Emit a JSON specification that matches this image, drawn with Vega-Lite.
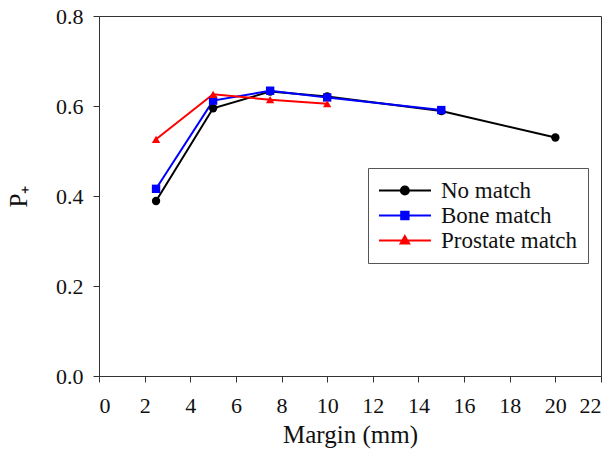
{
  "$schema": "https://vega.github.io/schema/vega-lite/v6.json",
  "width": 502,
  "height": 360,
  "autosize": {"type": "none"},
  "padding": {"left": 99, "top": 16, "right": 14, "bottom": 81},
  "background": "white",
  "config": {
    "font": "Liberation Serif",
    "view": {"stroke": "#333", "strokeWidth": 1},
    "axis": {"grid": false, "domainColor": "#333", "tickColor": "#333", "labelColor": "#111", "titleColor": "#111", "labelFont": "Liberation Serif", "titleFont": "Liberation Serif", "labelFontSize": 22, "titleFontSize": 25, "titleFontWeight": "normal", "tickSize": 6}
  },
  "data": {
    "values": [
      {"margin": 2.5, "p": 0.389, "series": "No match"},
      {"margin": 5, "p": 0.595, "series": "No match"},
      {"margin": 7.5, "p": 0.632, "series": "No match"},
      {"margin": 10, "p": 0.621, "series": "No match"},
      {"margin": 15, "p": 0.589, "series": "No match"},
      {"margin": 20, "p": 0.530, "series": "No match"},
      {"margin": 2.5, "p": 0.416, "series": "Bone match"},
      {"margin": 5, "p": 0.612, "series": "Bone match"},
      {"margin": 7.5, "p": 0.634, "series": "Bone match"},
      {"margin": 10, "p": 0.619, "series": "Bone match"},
      {"margin": 15, "p": 0.591, "series": "Bone match"},
      {"margin": 2.5, "p": 0.526, "series": "Prostate match"},
      {"margin": 5, "p": 0.626, "series": "Prostate match"},
      {"margin": 7.5, "p": 0.614, "series": "Prostate match"},
      {"margin": 10, "p": 0.605, "series": "Prostate match"}
    ]
  },
  "encoding": {
    "x": {"field": "margin", "type": "quantitative", "scale": {"domain": [0, 22], "nice": false}, "axis": {"values": [0,2,4,6,8,10,12,14,16,18,20,22], "title": "Margin (mm)", "titlePadding": 6, "labelPadding": 13}},
    "y": {"field": "p", "type": "quantitative", "scale": {"domain": [0, 0.8], "nice": false}, "axis": {"values": [0, 0.2, 0.4, 0.6, 0.8], "format": ".1f", "title": "P₊", "titlePadding": 24, "labelPadding": 10}},
    "color": {"field": "series", "type": "nominal",
      "scale": {"domain": ["No match", "Bone match", "Prostate match"], "range": ["#000000", "#0000ff", "#ff0000"]},
      "legend": null}
  },
  "layer": [
    {
      "mark": {"type": "line", "strokeWidth": 2},
      "encoding": {
        "color": {"field": "series", "type": "nominal",
          "legend": {
            "title": null,
            "orient": "none",
            "legendX": 269,
            "legendY": 152,
            "direction": "vertical",
            "strokeColor": "#555",
            "fillColor": "white",
            "padding": 10,
            "labelFont": "Liberation Serif",
            "labelFontSize": 23,
            "labelColor": "#111",
            "labelOffset": 38,
            "symbolSize": 529,
            "symbolStrokeWidth": 2,
            "rowPadding": 0,
            "encode": {
              "symbols": {
                "update": {
                  "shape": {"signal": "datum.value === 'No match' ? 'M-1,0L3.52,0M0.9,0A0.35,0.35 0 1,0 1.6,0A0.35,0.35 0 1,0 0.9,0Z' : datum.value === 'Bone match' ? 'M-1,0L3.52,0M0.93,-0.32L1.57,-0.32L1.57,0.32L0.93,0.32Z' : 'M-1,0L3.52,0M1.25,-0.38L1.62,0.27L0.88,0.27Z'"},
                  "fill": {"scale": "color", "field": "value"},
                  "stroke": {"scale": "color", "field": "value"},
                  "opacity": {"value": 1}
                }
              }
            }
          }
        }
      }
    },
    {
      "transform": [{"filter": "datum.series === 'No match'"}],
      "mark": {"type": "point", "shape": "circle", "filled": true, "size": 70, "opacity": 1}
    },
    {
      "transform": [{"filter": "datum.series === 'Bone match'"}],
      "mark": {"type": "point", "shape": "square", "filled": true, "size": 70, "opacity": 1}
    },
    {
      "transform": [{"filter": "datum.series === 'Prostate match'"}],
      "mark": {"type": "point", "shape": "triangle-up", "filled": true, "size": 70, "opacity": 1}
    }
  ]
}
